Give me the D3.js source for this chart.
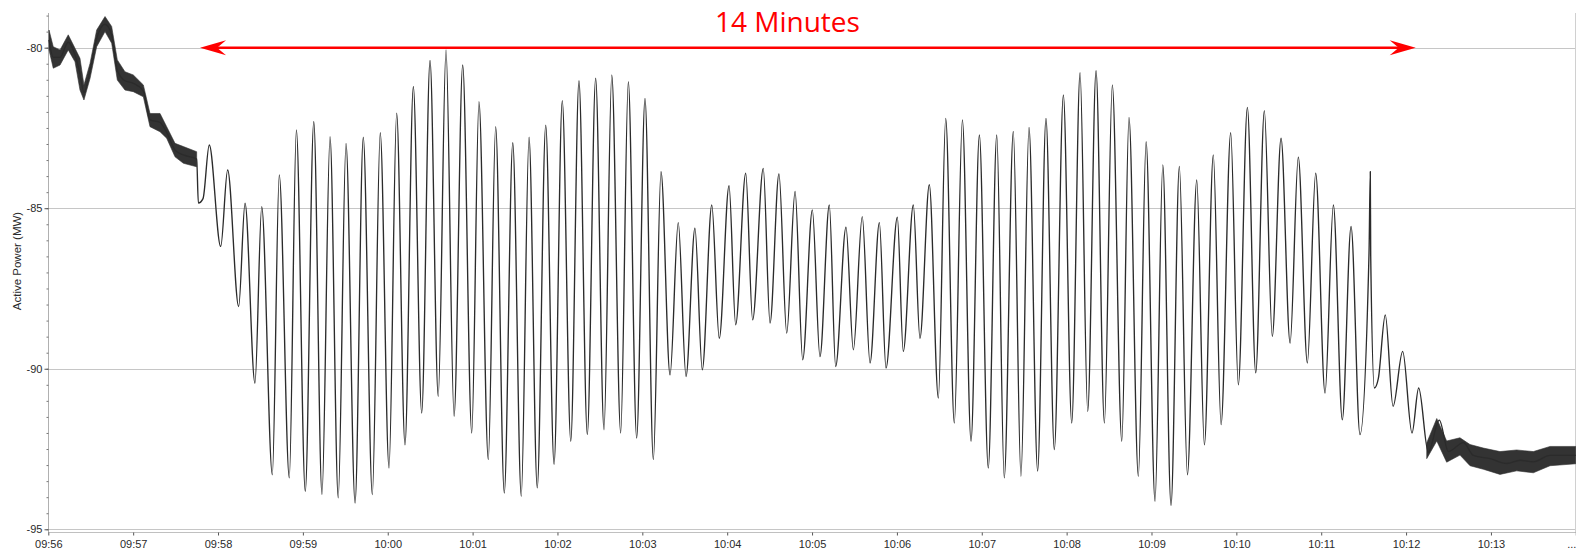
<!DOCTYPE html>
<html>
<head>
<meta charset="utf-8">
<script src="https://cdn.jsdelivr.net/npm/d3@7"></script>
<style>
body { margin: 0; background: #fff; }
text { font-family: "Liberation Sans", Arial, sans-serif; }
</style>
</head>
<body>
<script>
"use strict";

var width = 1576,
    height = 549;

// [seconds after 09:56:00, active power in MW], peaks and troughs
var trace = [
    [0.5, -79.76], [3.5, -80.3], [8.3, -80.3], [14.1, -79.83], [18.9, -80.23], [22.4, -80.82],
    [25.2, -81.4], [29.5, -80.72], [34.2, -79.71], [40.1, -79.27], [44.8, -79.6], [48.8, -80.7],
    [54.2, -81.03], [60.1, -81.11], [67.2, -81.35], [71.9, -82.25], [79.0, -82.33], [83.7, -82.64],
    [89.6, -83.19], [95.5, -83.34], [104.9, -83.47],
    [106.1, -84.84], [109.4, -84.7], [113.8, -83.03], [121.9, -86.19], [126.8, -83.81], [134.6, -88.06],
    [139.1, -84.84], [146.1, -90.45], [150.9, -84.95], [158.4, -93.3], [163.3, -83.96], [170.4, -93.4],
    [175.4, -82.56], [181.7, -93.82], [187.7, -82.3], [193.5, -93.92], [199.2, -82.77], [205.0, -94.02],
    [210.5, -82.98], [216.9, -94.18], [222.7, -82.79], [229.1, -93.92], [234.7, -82.65], [240.9, -93.09],
    [246.3, -82.04], [252.2, -92.37], [258.1, -81.21], [264.0, -91.38], [269.9, -80.4], [275.7, -90.86],
    [281.2, -80.07], [286.9, -91.48], [293.0, -80.54], [299.4, -92.0], [304.5, -81.68], [311.1, -92.83],
    [316.3, -82.46], [322.4, -93.87], [328.4, -82.96], [334.4, -93.97], [339.9, -82.79], [345.7, -93.71],
    [351.7, -82.41], [357.6, -92.98], [363.4, -81.65], [369.4, -92.26], [375.2, -81.03], [381.1, -92.05],
    [387.0, -80.95], [392.9, -91.9], [398.4, -80.85], [404.7, -92.0], [410.1, -81.06], [416.0, -92.16],
    [421.9, -81.58], [427.8, -92.83], [433.2, -83.86], [439.6, -90.19], [445.4, -85.45], [450.9, -90.24],
    [457.2, -85.62], [462.4, -90.03], [469.1, -84.9], [474.4, -89.05], [481.3, -84.3], [486.0, -88.63],
    [493.1, -83.91], [498.0, -88.48], [505.5, -83.76], [510.3, -88.58], [516.6, -83.93], [522.1, -88.89],
    [528.0, -84.48], [533.4, -89.72], [540.2, -85.05], [545.6, -89.62], [552.2, -84.9], [556.7, -89.93],
    [564.0, -85.59], [569.2, -89.41], [575.5, -85.26], [581.0, -89.82], [587.6, -85.45], [592.3, -89.98],
    [600.3, -85.28], [604.5, -89.46], [611.6, -84.9], [616.3, -89.05], [622.9, -84.27], [629.3, -90.91],
    [634.5, -82.2], [640.6, -91.69], [646.3, -82.25], [652.4, -92.26], [658.3, -82.72], [664.6, -93.09],
    [670.6, -82.72], [675.9, -93.4], [682.3, -82.61], [687.7, -93.35], [693.4, -82.48], [699.5, -93.19],
    [705.4, -82.2], [711.3, -92.52], [717.7, -81.47], [723.6, -91.69], [729.5, -80.78], [734.9, -91.33],
    [740.8, -80.72], [746.7, -91.69], [752.3, -81.16], [759.0, -92.26], [764.1, -82.17], [770.7, -93.35],
    [776.2, -82.93], [782.5, -94.13], [788.0, -83.65], [793.8, -94.26], [799.7, -83.7], [805.4, -93.3],
    [812.0, -84.12], [817.4, -92.37], [823.7, -83.34], [829.2, -91.74], [836.0, -82.65], [841.4, -90.5],
    [847.8, -81.86], [853.7, -90.13], [859.8, -81.96], [865.4, -88.99], [871.6, -82.82], [878.0, -89.2],
    [883.8, -83.41], [890.2, -89.82], [896.1, -83.91], [902.7, -90.76], [908.6, -84.9], [914.9, -91.59],
    [921.1, -85.57], [927.4, -92.05], [933.8, -86.4], [934.7, -83.86], [935.0, -86.5], [937.6, -90.6],
    [940.4, -90.3], [945.3, -88.32], [950.8, -91.17], [957.6, -89.46], [964.2, -92.0], [968.9, -90.6],
    [975.7, -92.6], [983.5, -91.6], [989.9, -92.58], [1000.5, -92.3], [1007.6, -92.7], [1019.4, -92.8],
    [1031.2, -92.95], [1040.6, -92.85], [1050.0, -92.9], [1061.8, -92.7], [1080, -92.7]
];

// noise envelope of the quiet stretches: [seconds, low, high]
var earlyNoise = [
    [0.5, -80.07, -79.45], [3.5, -80.64, -79.97], [8.3, -80.54, -80.07], [14.1, -80.07, -79.6],
    [18.9, -80.44, -80.02], [22.4, -81.32, -80.33], [25.2, -81.63, -81.16], [29.5, -80.96, -80.49],
    [34.2, -79.97, -79.45], [40.1, -79.5, -79.03], [44.8, -79.86, -79.34], [48.8, -81.01, -80.38],
    [54.2, -81.32, -80.75], [60.1, -81.37, -80.85], [67.2, -81.53, -81.16], [71.9, -82.46, -82.05],
    [79.0, -82.62, -82.05], [83.7, -82.82, -82.46], [89.6, -83.4, -82.98], [95.5, -83.6, -83.08],
    [104.9, -83.71, -83.24]
];
var lateNoise = [
    [974.6, -92.8, -92.31], [981.7, -92.25, -91.55], [988.7, -92.91, -92.25], [998.1, -92.69, -92.15],
    [1005.2, -93.02, -92.36], [1014.6, -93.13, -92.47], [1026.4, -93.29, -92.58], [1038.2, -93.18, -92.53],
    [1050.0, -93.24, -92.58], [1061.8, -93.02, -92.42], [1080, -92.96, -92.42]
];

var gridValues = [-80, -85, -90, -95];
var arrowSpan = [107.3, 966.8];   // seconds
var arrowValue = -80;
var arrowLabel = "14 Minutes";
var labelTime = 522.6;
var yTitle = "Active Power (MW)";

var t0 = new Date(2000, 0, 1, 9, 56, 0);
function at(s) { return new Date(t0.getTime() + s * 1000); }

var svg = d3.select("body")
    .append("svg")
    .attr("width", width)
    .attr("height", height);

var x = d3.scaleTime()
    .domain([at(0), at(1080)])
    .range([48.3, 1575.8]);
var y = d3.scaleLinear()
    .domain([-95.1, -78.92])
    .range([532.5, 13]);

function crisp(v) { return Math.round(v) + 0.5; }

// grid
svg.append("g").selectAll("line")
    .data(gridValues)
    .enter()
    .append("line")
    .attr("x1", 48).attr("x2", width)
    .attr("y1", d => crisp(y(d))).attr("y2", d => crisp(y(d)))
    .attr("stroke", "#c6c6c6");

// right border and bottom axis line
svg.append("line")
    .attr("x1", 1575.5).attr("x2", 1575.5).attr("y1", 13).attr("y2", 533)
    .attr("stroke", "#d0d0d0");
svg.append("line")
    .attr("x1", 48).attr("x2", width).attr("y1", 532.5).attr("y2", 532.5)
    .attr("stroke", "#c0c0c0");
svg.append("line")
    .attr("x1", 48.5).attr("x2", 48.5).attr("y1", 13).attr("y2", 533)
    .attr("stroke", "#b0b0b0");

// x axis
var lastTick = at(1080).getTime();
var xAxis = svg.append("g")
    .attr("transform", "translate(0,532.5)")
    .call(d3.axisBottom(x)
        .ticks(d3.timeMinute.every(1))
        .tickSize(3)
        .tickFormat(d => d.getTime() === lastTick ? "..." : d3.timeFormat("%H:%M")(d)));
xAxis.select(".domain").remove();
xAxis.selectAll(".tick line").attr("stroke", "#555");
xAxis.selectAll("text")
    .attr("y", 15.5).attr("dy", 0)
    .attr("font-size", 11).attr("fill", "#2a2a2a")
    .filter(d => d.getTime() === lastTick)
    .attr("text-anchor", "end");

// y axis, minor then major
var yMinor = svg.append("g")
    .attr("transform", "translate(48.5,0)")
    .call(d3.axisLeft(y).tickValues(d3.range(-95, -78.9, 0.5)).tickSize(2).tickFormat(""));
yMinor.select(".domain").remove();
yMinor.selectAll(".tick line").attr("stroke", "#777");

var yAxis = svg.append("g")
    .attr("transform", "translate(48.5,0)")
    .call(d3.axisLeft(y).tickValues(gridValues).tickSize(4).tickPadding(2).tickFormat(d => String(d)));
yAxis.select(".domain").remove();
yAxis.selectAll(".tick line").attr("stroke", "#555");
yAxis.selectAll("text").attr("font-size", 11).attr("fill", "#2a2a2a");

svg.append("text")
    .attr("transform", "translate(21,261) rotate(-90)")
    .attr("text-anchor", "middle")
    .attr("font-size", 11.5)
    .attr("fill", "#2a2a2a")
    .text(yTitle);

// noise bands
var band = d3.area()
    .x(d => x(at(d[0])))
    .y0(d => y(d[1]))
    .y1(d => y(d[2]));
svg.append("g").selectAll("path")
    .data([earlyNoise, lateNoise])
    .enter()
    .append("path")
    .attr("d", band)
    .attr("fill", "#333")
    .attr("stroke", "#333")
    .attr("stroke-width", 0.6);

// trace
var line = d3.line()
    .x(d => x(at(d[0])))
    .y(d => y(d[1]))
    .curve(d3.curveMonotoneX);
svg.append("path")
    .datum(trace)
    .attr("d", line)
    .attr("fill", "none")
    .attr("stroke", "#2b2b2b")
    .attr("stroke-width", 1.35);

// red annotation
var ax0 = x(at(arrowSpan[0])),
    ax1 = x(at(arrowSpan[1])),
    ay = y(arrowValue);
var anno = svg.append("g").attr("fill", "#ff0000");
anno.append("line")
    .attr("x1", ax0 + 15).attr("x2", ax1 - 15)
    .attr("y1", ay).attr("y2", ay)
    .attr("stroke", "#ff0000")
    .attr("stroke-width", 2.6);
anno.append("path")
    .attr("d", "M" + ax0 + "," + ay + "L" + (ax0 + 26) + "," + (ay - 7.5) + "L" + (ax0 + 17) + "," + ay +
               "L" + (ax0 + 26) + "," + (ay + 7.5) + "Z");
anno.append("path")
    .attr("d", "M" + ax1 + "," + ay + "L" + (ax1 - 26) + "," + (ay - 7.5) + "L" + (ax1 - 17) + "," + ay +
               "L" + (ax1 - 26) + "," + (ay + 7.5) + "Z");
anno.append("text")
    .attr("x", x(at(labelTime)))
    .attr("y", ay - 15.5)
    .attr("text-anchor", "middle")
    .style("font-family", "'Open Sans', sans-serif")
    .attr("font-size", 28)
    .text(arrowLabel);
</script>
</body>
</html>
